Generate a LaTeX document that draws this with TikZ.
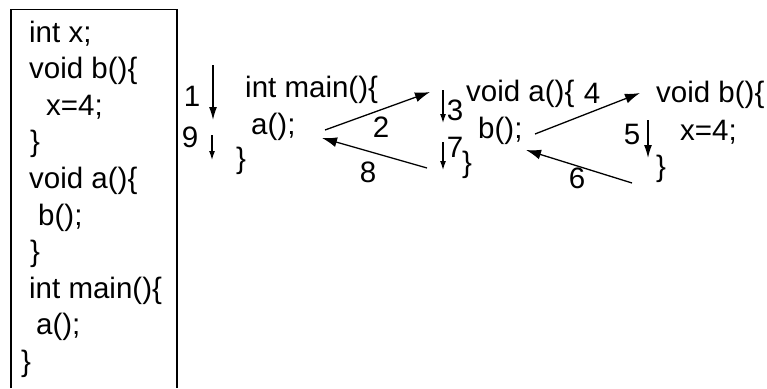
\documentclass[tikz,border=0pt]{standalone}
\usepackage{fontspec}
\setmainfont{Liberation Sans}
\usetikzlibrary{arrows.meta}

\begin{document}
\begin{tikzpicture}[x=1pt, y=-1pt,
  code/.style={anchor=base west, inner sep=0pt, font=\fontsize{29.5}{34}\selectfont},
  num/.style={inner sep=0pt, font=\fontsize{29.5}{34}\selectfont},
  arr/.style={-{Latex[length=15pt,width=10pt]}, line width=1.3pt},
  downl/.style={-{Latex[length=13pt,width=8pt]}, line width=1.3pt},
  downs/.style={-{Latex[length=9pt,width=6pt]}, line width=1.2pt}
]
  \useasboundingbox (0,0) rectangle (767,388);

  % program listing
  \coordinate (boxbl) at (11,388);
  \coordinate (boxtl) at (11,9.5);
  \coordinate (boxtr) at (177,9.5);
  \coordinate (boxbr) at (177,388);
  \draw[line width=1.3pt] (boxbl) -- (boxtl) -- (boxtr) -- (boxbr);

  \node[code] (l1)  at (29, 42.0)  {int x;};
  \node[code] (l2)  at (29, 78.6)  {void b()\{};
  \node[code] (l3)  at (46, 115.2) {x=4;};
  \node[code] (l4)  at (30, 151.8) {\}};
  \node[code] (l5)  at (29, 188.4) {void a()\{};
  \node[code] (l6)  at (38, 225.0) {b();};
  \node[code] (l7)  at (30, 261.6) {\}};
  \node[code] (l8)  at (29, 298.2) {int main()\{};
  \node[code] (l9)  at (36, 334.8) {a();};
  \node[code] (l10) at (21, 371.4) {\}};

  % call frames
  \node[code] (mainhd)   at (245, 97)  {int main()\{};
  \node[code] (maincall) at (251, 134) {a();};
  \node[code] (mainend)  at (236, 168) {\}};
  \node[code] (ahd)   at (466, 101) {void a()\{};
  \node[code] (acall) at (478, 138) {b();};
  \node[code] (aend)  at (462, 172) {\}};
  \node[code] (bhd)   at (656, 102) {void b()\{};
  \node[code] (bbody) at (680, 140) {x=4;};
  \node[code] (bend)  at (656, 176) {\}};

  % step numbers
  \node[num] (n1) at (192, 96)  {1};
  \node[num] (n2) at (381, 127) {2};
  \node[num] (n3) at (455, 110) {3};
  \node[num] (n4) at (592, 93)  {4};
  \node[num] (n5) at (632, 134) {5};
  \node[num] (n6) at (577, 178) {6};
  \node[num] (n7) at (455, 147) {7};
  \node[num] (n8) at (368, 172) {8};
  \node[num] (n9) at (190, 137) {9};

  % arrow ends
  \coordinate (s1a) at (213, 65);   \coordinate (s1b) at (213, 120);
  \coordinate (s2a) at (325, 130);  \coordinate (s2b) at (430, 92);
  \coordinate (s3a) at (443, 90);   \coordinate (s3b) at (443, 123);
  \coordinate (s4a) at (535, 134);  \coordinate (s4b) at (640, 93);
  \coordinate (s5a) at (648, 120);  \coordinate (s5b) at (648, 158);
  \coordinate (s6a) at (632, 183);  \coordinate (s6b) at (526, 150);
  \coordinate (s7a) at (443, 142);  \coordinate (s7b) at (443, 170);
  \coordinate (s8a) at (427, 168);  \coordinate (s8b) at (322, 138);
  \coordinate (s9a) at (212, 135);  \coordinate (s9b) at (212, 160);

  \draw[downl] (s1a) -- (s1b);
  \draw[arr]   (s2a) -- (s2b);
  \draw[downs] (s3a) -- (s3b);
  \draw[arr]   (s4a) -- (s4b);
  \draw[downl] (s5a) -- (s5b);
  \draw[arr]   (s6a) -- (s6b);
  \draw[downs] (s7a) -- (s7b);
  \draw[arr]   (s8a) -- (s8b);
  \draw[downs] (s9a) -- (s9b);
\end{tikzpicture}
\end{document}
